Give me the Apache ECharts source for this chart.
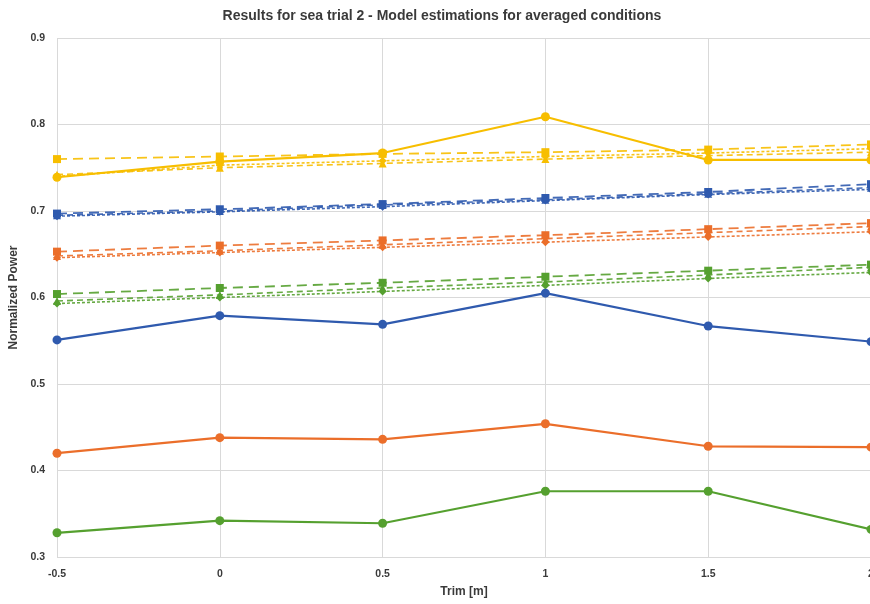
<!DOCTYPE html>
<html>
<head>
<meta charset="utf-8">
<script src="https://cdn.jsdelivr.net/npm/echarts@6/dist/echarts.min.js"></script>
<style>
html,body{margin:0;padding:0;background:#fff;}
#chart{width:870px;height:604px;}
</style>
</head>
<body>
<div id="chart"></div>
<script>
// Trim values [m]
const trim = [-0.5, 0, 0.5, 1, 1.5, 2];

// Condition colours
const colBlue = '#2F5AAE';
const colOrange = '#EB6E2A';
const colGreen = '#55A02F';
const colYellow = '#F7BE00';

// Measured (solid, circles)
const measYellow = [0.739, 0.757, 0.767, 0.809, 0.759, 0.759];
const measBlue   = [0.551, 0.579, 0.569, 0.605, 0.567, 0.549];
const measOrange = [0.420, 0.438, 0.436, 0.454, 0.428, 0.427];
const measGreen  = [0.328, 0.342, 0.339, 0.376, 0.376, 0.332];

// Model estimations (3 models per condition)
const yellowM1 = [0.760, 0.763, 0.766, 0.768, 0.771, 0.777];
const yellowM2 = [0.742, 0.750, 0.755, 0.760, 0.764, 0.768];
const yellowM3 = [0.740, 0.753, 0.758, 0.763, 0.767, 0.772];

const blueM1 = [0.697, 0.702, 0.708, 0.715, 0.722, 0.731];
const blueM2 = [0.695, 0.700, 0.707, 0.713, 0.720, 0.727];
const blueM3 = [0.694, 0.699, 0.705, 0.712, 0.719, 0.725];

const orangeM1 = [0.653, 0.660, 0.666, 0.672, 0.679, 0.686];
const orangeM2 = [0.648, 0.654, 0.661, 0.668, 0.675, 0.682];
const orangeM3 = [0.646, 0.652, 0.658, 0.664, 0.670, 0.676];

const greenM1 = [0.604, 0.611, 0.617, 0.624, 0.631, 0.638];
const greenM2 = [0.596, 0.603, 0.611, 0.618, 0.626, 0.635];
const greenM3 = [0.593, 0.600, 0.607, 0.614, 0.622, 0.629];

function pts(arr){ return trim.map((x,i)=>[x, arr[i]]); }

function measured(name, color, data){
  return {name, type:'line', data:pts(data), symbol:'circle', symbolSize:9,
    lineStyle:{color, width:2.2}, itemStyle:{color}, z:5};
}
function model(name, color, data, dash, symbol, width){
  return {name, type:'line', data:pts(data), symbol, symbolSize:8,
    lineStyle:{color, width:width||1.6, type:dash, opacity:0.9}, itemStyle:{color}, z:3};
}

const series = [
  model('Yellow model 1', colYellow, yellowM1, [10,6], 'rect', 1.8),
  model('Yellow model 2', colYellow, yellowM2, [6,4], 'triangle'),
  model('Yellow model 3', colYellow, yellowM3, [3,2], 'diamond'),
  measured('Yellow measured', colYellow, measYellow),
  model('Blue model 1', colBlue, blueM1, [10,6], 'rect', 1.8),
  model('Blue model 2', colBlue, blueM2, [6,4], 'triangle'),
  model('Blue model 3', colBlue, blueM3, [3,2], 'diamond'),
  measured('Blue measured', colBlue, measBlue),
  model('Orange model 1', colOrange, orangeM1, [10,6], 'rect', 1.8),
  model('Orange model 2', colOrange, orangeM2, [6,4], 'triangle'),
  model('Orange model 3', colOrange, orangeM3, [3,2], 'diamond'),
  measured('Orange measured', colOrange, measOrange),
  model('Green model 1', colGreen, greenM1, [10,6], 'rect', 1.8),
  model('Green model 2', colGreen, greenM2, [6,4], 'triangle'),
  model('Green model 3', colGreen, greenM3, [3,2], 'diamond'),
  measured('Green measured', colGreen, measGreen)
];

const chart = echarts.init(document.getElementById('chart'));
chart.setOption({
  backgroundColor:'#fff',
  animation:false,
  title:{
    text:'Results for sea trial 2 - Model estimations for averaged conditions',
    left:437, top:4, textAlign:'center',
    textStyle:{fontFamily:'Liberation Sans', fontSize:14, fontWeight:'bold', color:'#3A3A3A'}
  },
  grid:{left:57, right:-1, top:38, bottom:47, containLabel:false, outerBoundsMode:'none'},
  xAxis:{
    type:'value', min:-0.5, max:2, interval:0.5,
    name:'Trim [m]', nameLocation:'middle', nameGap:29,
    nameTextStyle:{fontFamily:'Liberation Sans', fontSize:12, fontWeight:'bold', color:'#3A3A3A'},
    axisLine:{show:false}, axisTick:{show:false},
    axisLabel:{fontFamily:'Liberation Sans', fontSize:10.5, fontWeight:'bold', color:'#3A3A3A', margin:12},
    splitLine:{show:true, lineStyle:{color:'#D9D9D9', width:1}}
  },
  yAxis:{
    type:'value', min:0.3, max:0.9, interval:0.1,
    name:'Normalized Power', nameLocation:'middle', nameGap:36,
    nameTextStyle:{fontFamily:'Liberation Sans', fontSize:12, fontWeight:'bold', color:'#3A3A3A'},
    axisLine:{show:false}, axisTick:{show:false},
    axisLabel:{fontFamily:'Liberation Sans', fontSize:10.5, fontWeight:'bold', color:'#3A3A3A', margin:12,
      formatter:v=>String(Math.round(v*10)/10)},
    splitLine:{show:true, lineStyle:{color:'#D9D9D9', width:1}}
  },
  series
});
</script>
</body>
</html>
